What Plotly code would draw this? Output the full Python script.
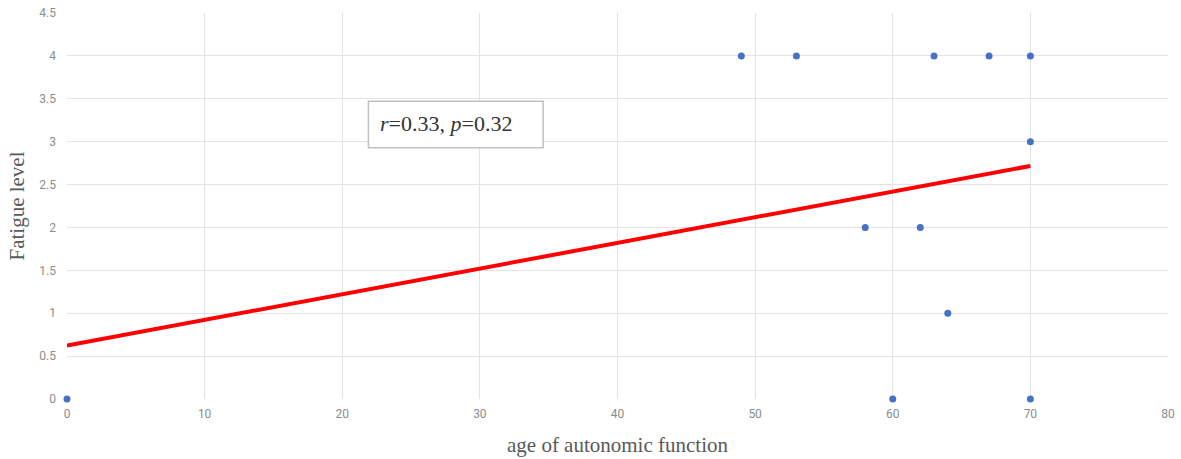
import numpy as np
import plotly.graph_objects as go

age = [0, 49, 53, 63, 67, 70, 70, 58, 62, 64, 60, 70]
fatigue = [0, 4, 4, 4, 4, 4, 3, 2, 2, 1, 0, 0]
x_ticks = [0, 10, 20, 30, 40, 50, 60, 70, 80]
y_ticks = [0, 0.5, 1, 1.5, 2, 2.5, 3, 3.5, 4, 4.5]
y_tick_text = ["0", "0.5", "1", "1.5", "2", "2.5", "3", "3.5", "4", "4.5"]
stat_text = "<i>r</i>=0.33, <i>p</i>=0.32"

slope, intercept = np.polyfit(age, fatigue, 1)
tx = [min(age), max(age)]
ty = [intercept + slope * v for v in tx]

fig = go.Figure()
fig.add_trace(go.Scatter(x=tx, y=ty, mode="lines",
                         line=dict(color="#ff0000", width=4), showlegend=False))
fig.add_trace(go.Scatter(x=age, y=fatigue, mode="markers",
                         marker=dict(color="#4472c4", size=7), showlegend=False,
                         cliponaxis=False))

fig.add_shape(type="rect", xref="x", yref="y", x0=21.9, x1=34.6, y0=2.93, y1=3.47,
              line=dict(color="#c0c0c0", width=1.5), fillcolor="white", layer="above")
fig.add_annotation(x=22.6, y=3.21, xref="x", yref="y", text=stat_text, showarrow=False,
                   xanchor="left", yanchor="middle",
                   font=dict(family="Liberation Serif", size=22, color="#333333"))

axis_common = dict(showgrid=True, gridcolor="#e3e3e3", gridwidth=1, zeroline=False,
                   showline=False, ticks="", automargin=False,
                   tickfont=dict(family="Roboto", size=12, color="#8c8c8c"))
fig.update_xaxes(range=[0, 80], tickvals=x_ticks, ticktext=[str(v) for v in x_ticks],
                 title=dict(text="age of autonomic function", standoff=17,
                            font=dict(family="Liberation Serif", size=21, color="#595959")),
                 ticklabelstandoff=6, **axis_common)
fig.update_yaxes(range=[0, 4.5], tickvals=y_ticks, ticktext=y_tick_text,
                 title=dict(text="Fatigue level", standoff=8,
                            font=dict(family="Liberation Serif", size=21, color="#595959")),
                 ticklabelstandoff=10, **axis_common)
fig.update_layout(width=1181, height=459, margin=dict(l=67, r=13, t=13, b=60),
                  plot_bgcolor="white", paper_bgcolor="white")
fig.write_html("out.html")
